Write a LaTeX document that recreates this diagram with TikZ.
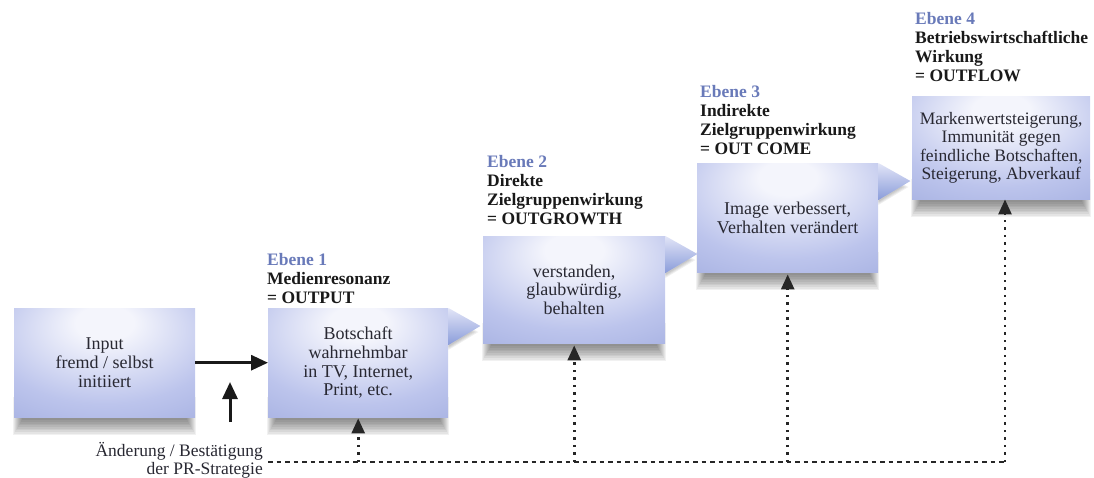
\documentclass[tikz,border=0pt]{standalone}
\usepackage{fontspec}
\setmainfont{Liberation Serif}
\usetikzlibrary{arrows.meta,backgrounds,calc}

\definecolor{boxedge}{RGB}{155,167,220}
\definecolor{boxmid}{RGB}{188,196,236}
\definecolor{boxlight}{RGB}{244,245,252}
\definecolor{ebene}{RGB}{105,122,185}
\definecolor{txt}{RGB}{40,40,50}
\definecolor{trilight}{RGB}{226,229,247}
\definecolor{tridark}{RGB}{138,156,218}

\pgfdeclareradialshading{boxshade}{\pgfpoint{0bp}{20bp}}{%
  color(0bp)=(boxlight); color(8bp)=(boxlight); color(32bp)=(boxmid);
  color(55bp)=(boxedge); color(90bp)=(boxedge)}

\tikzset{
  boxnode/.style={shading=boxshade, minimum width=180pt, minimum height=108pt,
    inner sep=2pt, align=center, text=txt, font=\fontsize{18}{18.7}\selectfont},
  headnode/.style={anchor=north west, inner sep=0pt, align=left,
    font=\bfseries\fontsize{17.5}{19}\selectfont, text=black!90},
  pointer/.style={top color=trilight, bottom color=tridark},
  dashline/.style={line width=2.4pt, dash pattern=on 4.5pt off 4pt, black!85},
  dotline/.style={line width=2.6pt, dash pattern=on 2.5pt off 5pt, black!85,
    -{Triangle[width=13pt,length=15pt]}},
  solidarrow/.style={line width=3pt, black!90, -{Triangle[width=15pt,length=17pt]}}
}

\begin{document}
\begin{tikzpicture}[x=1pt,y=-1pt]
\useasboundingbox (0,0) rectangle (1094,477);

% boxes
\node[boxnode, anchor=north west, minimum width=181pt, minimum height=109pt] (in) at (14,308)
  {Input\\fremd / selbst\\initiiert};
\node[boxnode, anchor=north west, minimum height=109pt] (b1) at (268,308)
  {Botschaft\\wahrnehmbar\\in TV, Internet,\\Print, etc.};
\node[boxnode, anchor=north west, minimum width=182pt, minimum height=107pt] (b2) at (483,236)
  {verstanden,\\glaubwürdig,\\behalten};
\node[boxnode, anchor=north west, minimum width=181pt, minimum height=109pt] (b3) at (697,163)
  {Image verbessert,\\Verhalten verändert};
\node[boxnode, anchor=north west, minimum width=178pt, minimum height=103pt,
      font=\fontsize{17.5}{18.5}\selectfont] (b4) at (912,96)
  {Markenwertsteigerung,\\Immunität gegen\\feindliche Botschaften,\\Steigerung, Abverkauf};

% shadows
\begin{scope}[on background layer]
  \foreach \b in {in,b1,b2,b3,b4}{
    \foreach \i in {0,...,9}{
      \fill[black, opacity=0.055]
        ($(\b.south west)+(\i*1.0-1,-20)$) rectangle ($(\b.south east)+(-\i*1.0+1,18-\i*1.7)$);
    }
  }
  \foreach \b in {b1,b2,b3}{
    \foreach \i in {0,...,3}{
      \fill[black, opacity=0.06]
        ($(\b.north east)+(0,8+\i)$) -- ($(\b.north east)+(30-\i*2,24)$) -- ($(\b.north east)+(0,42-\i)$) -- cycle;
    }
  }
\end{scope}

% pointers
\foreach \b in {b1,b2,b3}{
  \shade[pointer] (\b.north east) -- ($(\b.north east)+(32,18)$) -- ($(\b.north east)+(0,37)$) -- cycle;
}

% headings
\node[headnode] (h1) at (267,253) {\textcolor{ebene}{Ebene 1}\\Medienresonanz\\= OUTPUT};
\node[headnode] (h2) at (487,155) {\textcolor{ebene}{Ebene 2}\\Direkte\\Zielgruppenwirkung\\= OUTGROWTH};
\node[headnode] (h3) at (700,85) {\textcolor{ebene}{Ebene 3}\\Indirekte\\Zielgruppenwirkung\\= OUT COME};
\node[headnode] (h4) at (915,12) {\textcolor{ebene}{Ebene 4}\\Betriebswirtschaftliche\\Wirkung\\= OUTFLOW};

% strategy text
\node[anchor=north east, inner sep=0pt, align=right, text=txt,
      font=\fontsize{17.5}{18}\selectfont] (strat) at (263,442)
  {Änderung / Bestätigung\\der PR-Strategie};

% solid arrows
\draw[solidarrow] (in.east) -- (b1.west);
\coordinate (up0) at (230,422);
\coordinate (up1) at (230,382);
\draw[solidarrow] (up0) -- (up1);

% feedback lines
\coordinate (hl) at (268,462);
\coordinate (hr) at (1005,462);
\draw[dashline] (hl) -- (hr);
\draw[dotline] (b1.south |- hl) -- ($(b1.south)+(0,1)$);
\draw[dotline] (b2.south |- hl) -- ($(b2.south)+(0,2)$);
\draw[dotline] (b3.south |- hl) -- ($(b3.south)+(0,2)$);
\draw[dotline] (hr) -- (hr |- b4.south);
\end{tikzpicture}
\end{document}
